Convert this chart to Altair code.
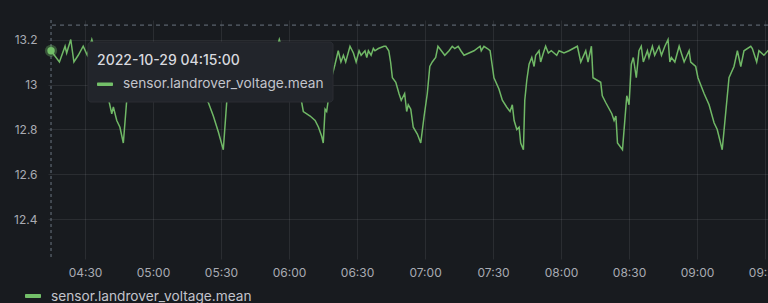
import altair as alt
import pandas as pd

SERIES = "sensor.landrover_voltage.mean"
START = "2022-10-29 04:15:00"
TOOLTIP_TIME = "2022-10-29 04:15:00"

# minutes after 04:15:00
MINUTES = [
    0, 3.7, 6.2, 6.9, 8.7, 10.1, 12.0, 14.2, 16.0, 18.0,
    19.4, 20.7, 22.1, 23.4, 24.3, 25.7, 26.8, 27.5, 29.0, 30.4,
    31.9, 33.4, 34.2, 35.3, 36.6, 37.9, 39.3, 40.6, 42.4, 44.1,
    46.3, 48.5, 50.3, 52.5, 54.7, 56.9, 59.6, 61.3, 63.1, 64.9,
    66.6, 67.9, 69.4, 71.6, 73.8, 76.0, 77.5, 78.5, 79.9, 81.2,
    82.9, 84.7, 86.5, 88.7, 90.9, 93.1, 95.3, 97.5, 99.3, 100.7,
    102.4, 104.1, 105.9, 107.2, 108.5, 109.6, 110.6, 111.3, 114.3, 116.5,
    118.0, 119.4, 120.1, 120.9, 121.6, 122.3, 123.5, 125.3, 126.7, 127.9,
    129.0, 130.0, 131.9, 133.4, 134.6, 135.9, 136.8, 138.5, 139.3, 140.0,
    141.2, 142.2, 142.9, 144.4, 146.9, 147.7, 149.0, 149.8, 150.6, 152.1,
    153.5, 154.5, 156.0, 156.9, 157.6, 158.7, 159.8, 161.6, 163.1, 164.6,
    166.0, 167.1, 168.2, 169.7, 170.7, 172.2, 173.7, 175.6, 177.0, 178.1,
    179.6, 180.8, 182.2, 184.4, 186.6, 189.3, 189.8, 191.0, 192.5, 193.7,
    194.7, 195.4, 197.6, 199.1, 201.0, 202.5, 203.5, 204.3, 205.5, 206.5,
    207.2, 208.4, 209.0, 209.9, 210.9, 212.1, 213.1, 213.8, 215.3, 216.0,
    217.2, 218.2, 219.4, 220.7, 221.9, 223.1, 224.1, 226.3, 228.5, 232.2,
    233.7, 235.9, 236.9, 238.4, 239.1, 242.5, 243.2, 244.7, 247.4, 248.4,
    249.2, 249.9, 252.1, 254.0, 255.0, 256.0, 256.9, 258.2, 259.4, 260.4,
    261.3, 262.4, 263.1, 263.8, 265.3, 266.3, 268.2, 269.3, 270.8, 272.2,
    273.0, 273.7, 275.2, 277.1, 279.3, 281.5, 282.2, 284.4, 285.4, 288.1,
    290.3, 292.5, 293.9, 296.1, 299.1, 301.3, 302.8, 304.3, 305.7, 308.7,
    309.4, 311.3, 312.3, 314.5, 316.3, 318.1,
]

VOLTAGE = [
    13.15, 13.10, 13.17, 13.14, 13.20, 13.10, 13.13, 13.17, 13.13, 13.20,
    13.15, 13.09, 13.02, 12.98, 12.95, 12.92, 12.87, 12.90, 12.84, 12.81,
    12.74, 12.93, 13.04, 13.11, 13.16, 13.13, 13.17, 13.14, 13.17, 13.13,
    13.15, 13.17, 13.14, 13.17, 13.15, 13.17, 13.14, 13.11, 13.04, 13.00,
    12.96, 12.94, 12.92, 12.86, 12.79, 12.71, 12.92, 13.04, 13.12, 13.16,
    13.13, 13.17, 13.14, 13.17, 13.15, 13.17, 13.14, 13.17, 13.15, 13.20,
    13.14, 13.17, 13.13, 13.06, 12.98, 12.94, 12.92, 12.88, 12.86, 12.84,
    12.81, 12.77, 12.74, 12.89, 12.88, 12.93, 13.02, 13.09, 13.15, 13.10,
    13.13, 13.10, 13.17, 13.14, 13.10, 13.15, 13.13, 13.15, 13.12, 13.15,
    13.13, 13.16, 13.15, 13.16, 13.17, 13.17, 13.15, 13.10, 13.03, 13.01,
    12.96, 12.93, 12.96, 12.88, 12.91, 12.89, 12.81, 12.78, 12.74, 12.86,
    12.96, 13.08, 13.10, 13.12, 13.17, 13.15, 13.13, 13.15, 13.17, 13.16,
    13.17, 13.15, 13.13, 13.14, 13.15, 13.17, 13.15, 13.17, 13.16, 13.15,
    13.08, 13.03, 12.98, 12.93, 12.90, 12.88, 12.91, 12.84, 12.80, 12.81,
    12.74, 12.71, 12.93, 13.02, 13.09, 13.12, 13.08, 13.13, 13.15, 13.10,
    13.14, 13.17, 13.14, 13.15, 13.14, 13.13, 13.15, 13.14, 13.15, 13.17,
    13.10, 13.15, 13.10, 13.17, 13.03, 13.01, 12.95, 12.92, 12.87, 12.84,
    12.86, 12.74, 12.71, 12.95, 12.91, 13.09, 13.12, 13.03, 13.15, 13.17,
    13.10, 13.13, 13.15, 13.12, 13.17, 13.13, 13.17, 13.13, 13.17, 13.20,
    13.10, 13.12, 13.10, 13.17, 13.10, 13.15, 13.10, 13.08, 13.03, 12.96,
    12.91, 12.83, 12.80, 12.71, 13.03, 13.08, 13.15, 13.08, 13.15, 13.17,
    13.16, 13.10, 13.15, 13.13, 13.15, 13.17,
]

X_TICKS = ["04:30", "05:00", "05:30", "06:00", "06:30", "07:00",
           "07:30", "08:00", "08:30", "09:00", "09:30"]
Y_TICKS = [12.4, 12.6, 12.8, 13.0, 13.2]
Y_DOMAIN = [12.2244, 13.2867]
X_DOMAIN_MIN = [-1.32, 316.3]   # minutes relative to START
CURSOR_VALUE = 13.264           # horizontal crosshair level

GREEN = "#73BF69"
BG = "#181b1f"
TEXT = "#a9abb3"
GRID = "#ccccdc"
FONT = "Inter"

base_t = pd.Timestamp(START)
times = [(base_t + pd.Timedelta(minutes=m)).strftime("%Y-%m-%dT%H:%M:%S") for m in MINUTES]
df = pd.DataFrame({"time": times, "value": VOLTAGE})


def to_dt(ts):
    return alt.DateTime(year=ts.year, month=ts.month, date=ts.day,
                        hours=ts.hour, minutes=ts.minute, seconds=ts.second)


x_dom = [to_dt(base_t + pd.Timedelta(minutes=m)) for m in X_DOMAIN_MIN]
x_vals = [to_dt(pd.Timestamp(f"{START[:10]} {t}:00")) for t in X_TICKS]
xscale = alt.Scale(domain=x_dom)
yscale = alt.Scale(domain=Y_DOMAIN, nice=False, zero=False)

x_axis = alt.Axis(
    format="%H:%M", values=x_vals, title=None,
    domain=False, ticks=False, tickSize=0, labelPadding=8, grid=True,
    gridColor=GRID, gridOpacity=0.1, labelColor=TEXT, labelFontSize=12,
    labelFlush=False, labelOverlap=False, labelBound=False, labelFont=FONT,
)
y_axis = alt.Axis(
    values=Y_TICKS, format="~g", title=None, domain=False, ticks=False,
    tickSize=0, labelPadding=11, grid=True, gridColor=GRID, gridOpacity=0.1,
    labelColor=TEXT, labelFontSize=12, labelFont=FONT,
)

X = alt.X("time:T", scale=xscale, axis=x_axis)
Y = alt.Y("value:Q", scale=yscale, axis=y_axis)

line = alt.Chart(df).mark_line(color="#70b866", strokeWidth=1.5, clip=True).encode(x=X, y=Y)

first = pd.DataFrame({"time": [times[0]], "value": [VOLTAGE[0]]})

vrule = alt.Chart(first).mark_rule(color="#6b7580", strokeDash=[3, 3], strokeWidth=1).encode(x=X)
hrule = alt.Chart(pd.DataFrame({"value": [CURSOR_VALUE]})).mark_rule(
    color="#6b7580", strokeDash=[4, 4], strokeWidth=1
).encode(y=Y)

halo = alt.Chart(first).mark_circle(color=GREEN, opacity=0.35, size=150).encode(x=X, y=Y)
dot = alt.Chart(first).mark_circle(color=GREEN, opacity=1, size=55).encode(x=X, y=Y)

one = alt.Data(values=[{}])

tip_box = alt.Chart(one).mark_rect(fill="#22252b", cornerRadius=3, stroke="#2a2d33", strokeWidth=1).encode(
    x=alt.value(40), x2=alt.value(285), y=alt.value(22), y2=alt.value(82),
)
tip_title = alt.Chart(one).mark_text(
    text=TOOLTIP_TIME, align="left", baseline="middle", font=FONT,
    fontSize=14, fontWeight=500, color="#d8d9df",
).encode(x=alt.value(49), y=alt.value(41))
tip_swatch = alt.Chart(one).mark_rect(fill=GREEN, cornerRadius=1).encode(
    x=alt.value(49), x2=alt.value(65), y=alt.value(62.5), y2=alt.value(66),
)
tip_name = alt.Chart(one).mark_text(
    text=SERIES, align="left", baseline="middle", font=FONT,
    fontSize=13.7, color="#c3c4cc",
).encode(x=alt.value(75), y=alt.value(63.5))

leg_swatch = alt.Chart(one).mark_rect(fill=GREEN, cornerRadius=1).encode(
    x=alt.value(-23), x2=alt.value(-7), y=alt.value(274), y2=alt.value(278),
)
leg_name = alt.Chart(one).mark_text(
    text=SERIES, align="left", baseline="middle", font=FONT,
    fontSize=13.7, color="#c3c4cc",
).encode(x=alt.value(3), y=alt.value(276.5))

chart = alt.layer(
    line, hrule, vrule, halo, dot, tip_box, tip_title, tip_swatch, tip_name,
    leg_swatch, leg_name,
).properties(
    width=720, height=239,
    autosize=alt.AutoSizeParams(type="none"),
    padding={"left": 48, "top": 20, "right": 0, "bottom": 44},
    background=BG,
).configure(font=FONT).configure_view(stroke=None)

chart.save("out.html", embed_options={"renderer": "svg", "actions": False})
